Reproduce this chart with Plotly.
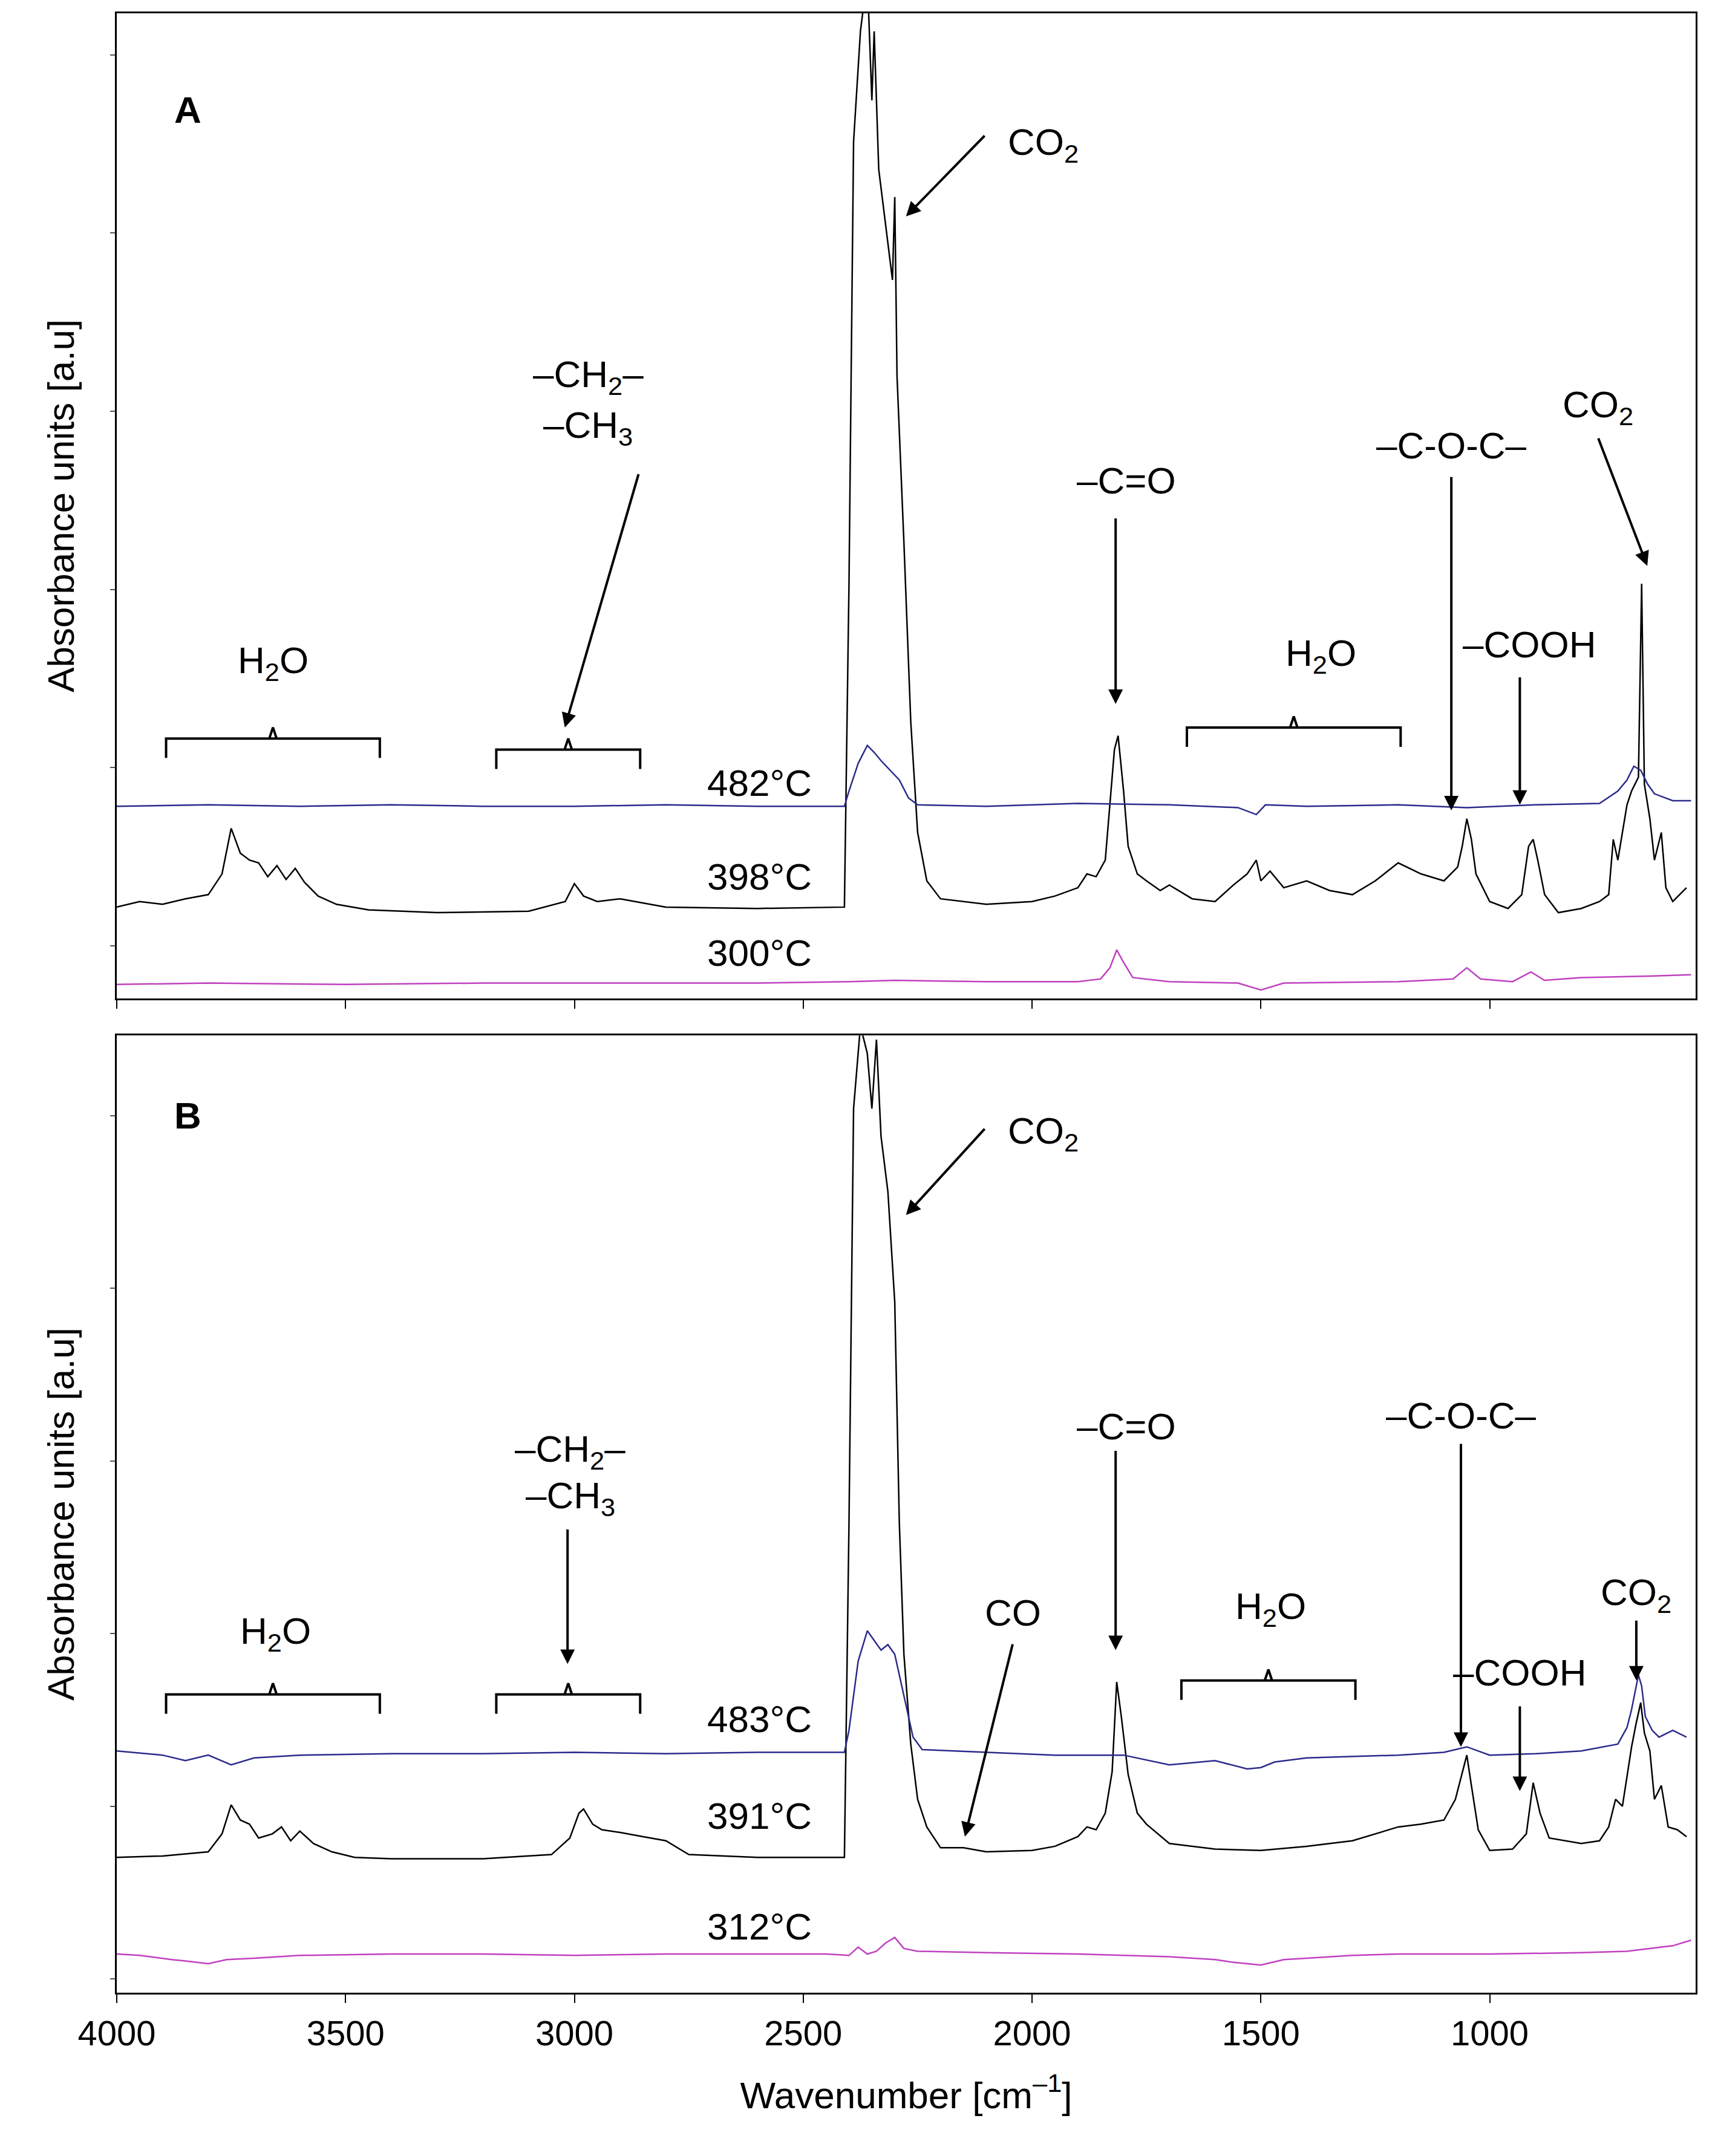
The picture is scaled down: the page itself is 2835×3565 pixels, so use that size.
import plotly.graph_objects as go

# ---- data (absorbance, arbitrary units) ----
wn_a_black = [4000, 3950, 3900, 3850, 3800, 3770, 3750, 3730, 3710, 3690, 3670, 3650, 3630, 3610, 3590, 3560, 3520, 3450,
              3300, 3100, 3020, 3000, 2980, 2950, 2900, 2800, 2600, 2410, 2400, 2390, 2375, 2360, 2350, 2345, 2335, 2320,
              2305, 2300, 2295, 2280, 2265, 2250, 2230, 2200, 2100, 2000, 1950, 1900, 1880, 1860, 1840, 1820, 1812, 1800,
              1790, 1770, 1750, 1720, 1700, 1650, 1600, 1560, 1530, 1510, 1500, 1480, 1450, 1400, 1350, 1300, 1250, 1200,
              1150, 1100, 1070, 1060, 1050, 1040, 1030, 1000, 960, 930, 915, 905, 895, 880, 850, 800, 760, 740, 730, 720,
              700, 690, 675, 668, 662, 650, 640, 625, 615, 600, 570]
ab_a_black = [66, 70, 68, 72, 75, 90, 123, 105, 100, 98, 88, 96, 86, 94, 84, 74, 68, 64,
              62, 63, 70, 83, 74, 70, 72, 66, 65, 66, 300, 620, 700, 740, 650, 700, 600, 560,
              520, 580, 450, 330, 200, 120, 85, 72, 68, 70, 74, 80, 90, 88, 100, 180, 190, 150,
              110, 90, 85, 78, 82, 72, 70, 82, 90, 100, 85, 92, 80, 85, 78, 75, 85, 98,
              90, 85, 95, 110, 130, 115, 90, 70, 65, 75, 110, 115, 100, 75, 62, 65, 70, 75, 115, 100,
              140, 150, 160, 300, 155, 130, 100, 120, 80, 70, 80]

wn_a_blue = [4000, 3800, 3600, 3400, 3200, 3000, 2800, 2600, 2410, 2400, 2380, 2360, 2345, 2330, 2310, 2290, 2270, 2250,
             2100, 1900, 1700, 1550, 1510, 1490, 1400, 1200, 1050, 900, 760, 720, 700, 685, 670, 655, 640, 600, 560]
ab_a_blue = [139, 140, 139, 140, 139, 139, 140, 139, 139, 150, 170, 183, 178, 172, 165, 158, 145, 140,
             139, 141, 140, 138, 133, 140, 139, 140, 138, 140, 141, 150, 158, 168, 165, 155, 148, 143, 143]

wn_a_pink = [4000, 3800, 3500, 3200, 2900, 2600, 2400, 2300, 2100, 1900, 1850, 1830, 1815, 1800, 1780, 1700, 1550, 1500,
             1450, 1200, 1080, 1050, 1020, 950, 910, 880, 800, 650, 560]
ab_a_pink = [10, 11, 10, 11, 11, 11, 12, 13, 12, 12, 14, 22, 35, 26, 15, 12, 11, 6,
             11, 12, 14, 22, 14, 12, 19, 13, 15, 16, 17]

wn_b_black = [4000, 3900, 3800, 3770, 3750, 3730, 3710, 3690, 3660, 3640, 3620, 3600, 3570, 3530, 3480, 3400, 3200, 3050,
              3010, 2990, 2980, 2960, 2940, 2900, 2850, 2800, 2750, 2600, 2410, 2400, 2390, 2375, 2360, 2350, 2340, 2330,
              2315, 2300, 2290, 2280, 2265, 2250, 2230, 2200, 2150, 2100, 2000, 1950, 1900, 1880, 1860, 1840, 1825, 1815,
              1805, 1790, 1770, 1750, 1700, 1600, 1500, 1400, 1300, 1250, 1200, 1150, 1100, 1075, 1060, 1050, 1040, 1025,
              1000, 950, 920, 905, 890, 870, 800, 760, 740, 725, 710, 690, 680, 670, 662, 650, 640, 625, 610, 590, 570]
ab_b_black = [98, 99, 102, 115, 136, 125, 122, 112, 115, 120, 110, 117, 108, 102, 98, 97, 97, 100,
              112, 130, 133, 122, 118, 116, 113, 110, 100, 98, 98, 340, 640, 700, 680, 640, 690, 620,
              580, 500, 340, 245, 180, 140, 120, 105, 105, 102, 103, 106, 113, 120, 118, 130, 160, 225,
              200, 158, 130, 122, 108, 104, 103, 106, 110, 115, 120, 122, 125, 140, 160, 172, 150, 118,
              103, 104, 115, 152, 130, 112, 108, 110, 120, 140, 135, 178, 195, 210, 188, 175, 140, 150, 120, 118, 113]

wn_b_blue = [4000, 3900, 3850, 3800, 3750, 3700, 3600, 3400, 3200, 3000, 2800, 2600, 2410, 2400, 2380, 2360, 2345, 2330,
             2315, 2300, 2280, 2260, 2240, 2100, 1950, 1800, 1700, 1600, 1530, 1500, 1470, 1400, 1200, 1100, 1050, 1000,
             900, 800, 720, 700, 690, 675, 668, 660, 645, 630, 600, 570]
ab_b_blue = [175, 172, 168, 172, 165, 170, 172, 173, 173, 174, 173, 174, 174, 190, 240, 262, 255, 248,
             252, 245, 215, 185, 176, 174, 172, 172, 165, 168, 162, 163, 167, 170, 172, 174, 178, 172,
             173, 175, 180, 192, 205, 230, 222, 200, 190, 185, 190, 185]

wn_b_pink = [4000, 3950, 3880, 3850, 3800, 3760, 3700, 3600, 3400, 3200, 3000, 2800, 2600, 2450, 2400, 2380, 2360, 2340,
             2320, 2300, 2280, 2250, 2100, 1900, 1800, 1700, 1600, 1560, 1500, 1450, 1400, 1300, 1200, 1000, 800, 700, 600, 560]
ab_b_pink = [28, 27, 24, 23, 21, 24, 25, 27, 28, 28, 27, 28, 28, 28, 27, 33, 28, 30,
             36, 40, 32, 30, 29, 28, 27, 26, 24, 22, 20, 24, 25, 27, 28, 28, 29, 30, 34, 38]

PINK = "#c040c0"
BLUE = "#2b2b8c"
FONT = "Liberation Sans, Arial, sans-serif"


def xd(px):
    # horizontal position (display px) -> wavenumber
    return 4000 - (px - 81) / 167 * 500


fig = go.Figure()
traces = [(wn_a_pink, ab_a_pink, PINK, "y"), (wn_a_black, ab_a_black, "black", "y"), (wn_a_blue, ab_a_blue, BLUE, "y"),
          (wn_b_pink, ab_b_pink, PINK, "y2"), (wn_b_black, ab_b_black, "black", "y2"), (wn_b_blue, ab_b_blue, BLUE, "y2")]
for wx, wy, c, ya in traces:
    fig.add_trace(go.Scatter(x=wx, y=wy, mode="lines", line=dict(color=c, width=2.5),
                             xaxis="x" if ya == "y" else "x2", yaxis=ya, showlegend=False))

# brackets (display px: left, right, y) per panel
brackets_a = [(117, 273, 530), (358, 463, 538), (862, 1018, 522)]
brackets_b = [(117, 273, 1222), (358, 463, 1222), (858, 985, 1212)]
for brs, ax, ya, base in [(brackets_a, "x", "y", 718), (brackets_b, "x2", "y2", 1438)]:
    for l, r, yy in brs:
        c = (l + r) / 2
        bx = [xd(l), xd(l), xd(c) - 8, xd(c), xd(c), xd(c), xd(c) + 8, xd(r), xd(r)]
        by = [base - yy - 14, base - yy, base - yy, base - yy + 8, base - yy + 8, base - yy + 8, base - yy, base - yy, base - yy - 14]
        fig.add_trace(go.Scatter(x=bx, y=by, mode="lines", line=dict(color="black", width=4),
                                 xaxis=ax, yaxis=ya, showlegend=False, hoverinfo="skip"))

labels_a = [("<b>A</b>", 133, 75), ("CO<sub>2</sub>", 757, 100), ("–CH<sub>2</sub>–", 425, 268), ("–CH<sub>3</sub>", 425, 305),
            ("H<sub>2</sub>O", 195, 475), ("–C=O", 818, 343), ("H<sub>2</sub>O", 960, 470), ("–C-O-C–", 1055, 318),
            ("–COOH", 1112, 462), ("CO<sub>2</sub>", 1162, 290),
            ("482°C", 550, 562), ("398°C", 550, 630), ("300°C", 550, 685)]
arrows_a = [(715, 93, 657, 152), (462, 338, 408, 522), (810, 370, 810, 505), (1055, 340, 1055, 582),
            (1105, 485, 1105, 578), (1162, 312, 1198, 405)]
labels_b = [("<b>B</b>", 133, 803), ("CO<sub>2</sub>", 757, 816), ("–CH<sub>2</sub>–", 412, 1046), ("–CH<sub>3</sub>", 412, 1080),
            ("H<sub>2</sub>O", 197, 1178), ("CO", 735, 1163), ("–C=O", 818, 1028), ("H<sub>2</sub>O", 923, 1160),
            ("–C-O-C–", 1062, 1020), ("–COOH", 1105, 1206), ("CO<sub>2</sub>", 1190, 1150),
            ("483°C", 550, 1240), ("391°C", 550, 1310), ("312°C", 550, 1390)]
arrows_b = [(715, 812, 657, 875), (410, 1102, 410, 1200), (735, 1185, 700, 1325), (810, 1045, 810, 1190),
            (1062, 1040, 1062, 1260), (1105, 1230, 1105, 1292), (1190, 1168, 1190, 1212)]

ann = []
for labs, arrs, ax, ya, base in [(labels_a, arrows_a, "x", "y", 718), (labels_b, arrows_b, "x2", "y2", 1438)]:
    for t, px, py in labs:
        ann.append(dict(text=t, x=xd(px), y=base - py, xref=ax, yref=ya, showarrow=False,
                        font=dict(family=FONT, size=62, color="black")))
    for x0, y0, x1, y1 in arrs:
        ann.append(dict(x=xd(x1), y=base - y1, ax=xd(x0), ay=base - y0, xref=ax, yref=ya, axref=ax, ayref=ya,
                        text="", showarrow=True, arrowhead=2, arrowsize=1.2, arrowwidth=4, arrowcolor="black"))

axis_common = dict(range=[4000, 550], showline=True, mirror=True, linecolor="black", linewidth=3,
                   ticks="outside", ticklen=14, tickwidth=2, tickcolor="black", showgrid=False, zeroline=False,
                   dtick=500, tick0=1000, tickfont=dict(family=FONT, size=58, color="black"))
yaxis_common = dict(showline=True, mirror=True, linecolor="black", linewidth=3, ticks="outside", ticklen=8,
                    tickwidth=2, tickcolor="#555", showgrid=False, zeroline=False, showticklabels=False,
                    title=dict(text="Absorbance units [a.u]", font=dict(family=FONT, size=62, color="black"), standoff=40))

fig.update_layout(
    width=2835, height=3565, plot_bgcolor="white", paper_bgcolor="white",
    margin=dict(l=185, r=40, t=11, b=278),
    xaxis=dict(axis_common, anchor="y", showticklabels=False),
    xaxis2=dict(axis_common, anchor="y2",
                title=dict(text="Wavenumber [cm<sup>–1</sup>]", font=dict(family=FONT, size=62, color="black"), standoff=50)),
    yaxis=dict(yaxis_common, domain=[0.5024, 1], range=[0, 713], tick0=38, dtick=129, anchor="x"),
    yaxis2=dict(yaxis_common, domain=[0, 0.4836], range=[0, 693], tick0=10, dtick=125, anchor="x2"),
    annotations=ann,
)

fig.write_html("out.html")
